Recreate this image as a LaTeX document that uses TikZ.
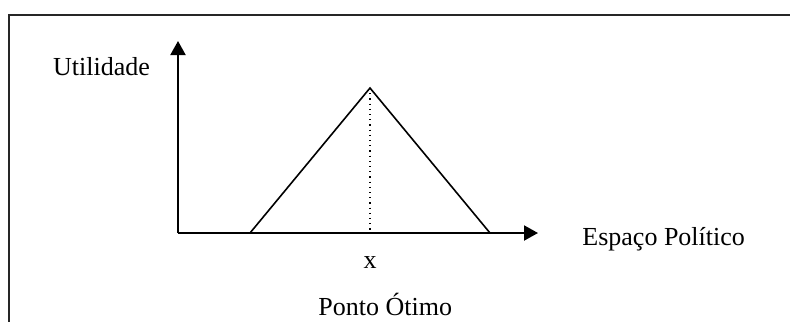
\documentclass[tikz,border=0pt]{standalone}
\usepackage{fontspec}
\setmainfont{Liberation Serif}
\usetikzlibrary{positioning, arrows.meta}

\begin{document}
\begin{tikzpicture}[
  x=0.5pt, y=-0.5pt,
  font=\fontsize{13}{15}\selectfont,
  frame/.style={line width=1pt, black!85},
  axis/.style={-{Triangle[length=7pt, width=7.5pt]}, line width=1pt},
  curve/.style={line width=0.8pt},
  guide/.style={dotted, line width=0.6pt},
  lbl/.style={anchor=base, inner sep=0pt}
]
  \useasboundingbox (0,0) rectangle (790,322);

  % frame
  \draw[frame] (790,15) -- (9,15) -- (9,322);

  % axes
  \coordinate (origin) at (178,233);
  \coordinate (ytop) at (178,41);
  \coordinate (xend) at (538,233);
  \draw[axis] (origin) -- (ytop);
  \draw[axis] (origin) -- (xend);

  % utility curve
  \coordinate (left) at (250,233);
  \coordinate (peak) at (370,88);
  \coordinate (right) at (490,233);
  \coordinate (foot) at (370,233);
  \draw[curve] (left) -- (peak) -- (right);
  \draw[guide] (peak) -- (foot);

  % labels
  \node[lbl] (util) at (101.5,75) {Utilidade};
  \node[lbl, anchor=base west] (espaco) at (582,245) {Espaço Político};
  \node[lbl] (xlbl) at (370,268) {x};
  \node[lbl, anchor=base west] (otimo) at (318,315) {Ponto Ótimo};
\end{tikzpicture}
\end{document}
